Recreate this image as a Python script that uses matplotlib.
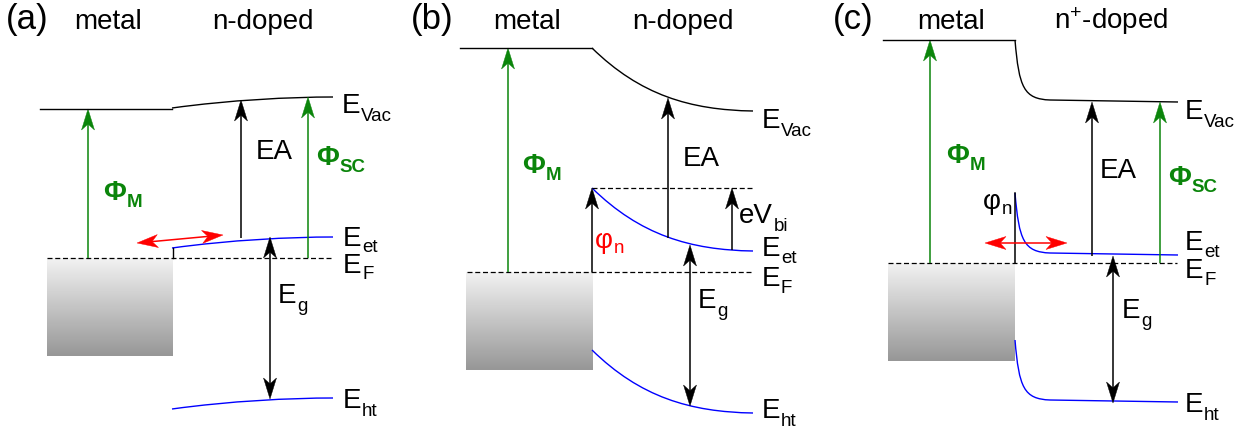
import numpy as np
import matplotlib
matplotlib.use("Agg")
import matplotlib.pyplot as plt
from matplotlib.path import Path
from matplotlib.patches import PathPatch, Polygon
from matplotlib.colors import LinearSegmentedColormap

plt.rcParams["font.family"] = ["Liberation Sans", "DejaVu Sans"]
plt.rcParams["mathtext.fontset"] = "custom"
plt.rcParams["mathtext.rm"] = "Liberation Sans"
plt.rcParams["mathtext.bf"] = "Liberation Sans:bold"
plt.rcParams["mathtext.it"] = "Liberation Sans:italic"

GREEN = "#0b850b"

# band diagram levels (pixels, y from the top)
panel_tags = ["(a)", "(b)", "(c)"]
semi_titles = ["n-doped", "n-doped", "n$^{+}$-doped"]
metal_x = [(40, 172), (460, 592), (883, 1015)]
vac_metal = [109, 48, 40]
fermi = [258, 272, 263]
fermi_x = [(47, 333), (467, 753), (888, 1177)]
box_x = [(47, 173), (466, 593), (888, 1015)]
box_bottom = [356, 370, 361]

# vacuum level in the semiconductor (bezier control points)
vac_a = [(172, 108), (230, 100), (290, 97), (333, 97)]
vac_b = [(592, 48), (640, 95), (690, 110), (753, 111)]
vac_c = [(1015, 40), (1019, 88), (1024, 99), (1050, 100), (1178, 102)]
et_offset = [140, 140, 153]   # E_et below E_Vac
ht_offset = [301, 302, 300]   # E_ht below E_Vac


def _setup_figure(width, height):
    dpi = 100
    fig = plt.figure(figsize=(width / dpi, height / dpi), dpi=dpi)
    ax = fig.add_axes([0, 0, 1, 1])
    ax.set_xlim(0, width)
    ax.set_ylim(height, 0)
    ax.axis("off")
    return fig, ax


def band(ax, pts, dy, color, lw=1.0):
    pts = [(x, y + dy) for x, y in pts]
    codes = [Path.MOVETO] + [Path.CURVE4] * 3 + [Path.LINETO] * (len(pts) - 4)
    ax.add_patch(PathPatch(Path(pts, codes), fc="none", ec=color, lw=lw))


def head(ax, tip, tail, color, length=21, width=6.5, notch=0.72):
    tip = np.array(tip, float)
    d = tip - np.array(tail, float)
    u = d / np.hypot(*d)
    n = np.array([-u[1], u[0]])
    pts = [tip, tip - u * length + n * width, tip - u * length * notch,
           tip - u * length - n * width]
    ax.add_patch(Polygon(pts, closed=True, fc=color, ec=color, lw=0.3))
    return tip - u * length * notch


def arrow(ax, tail, tip, color="black", both=False, lw=1.1):
    end = head(ax, tip, tail, color)
    start = head(ax, tail, tip, color) if both else tail
    ax.plot([start[0], end[0]], [start[1], end[1]], color=color, lw=lw,
            solid_capstyle="butt")


def label(ax, x, y, main, sub="", color="black", weight="normal", drop=8):
    t = ax.text(x, y, main, color=color, fontsize=20, fontweight=weight,
                ha="left", va="baseline")
    if sub:
        bb = t.get_window_extent(renderer)
        ax.text(bb.x1 + 0.5, y + drop, sub, color=color, fontsize=13.5,
                fontweight=weight, ha="left", va="baseline")


fig, ax = _setup_figure(1241, 428)
renderer = fig.canvas.get_renderer()

grey = LinearSegmentedColormap.from_list("metal", ["#f2f2f2", "#979797"])
vacs = [vac_a, vac_b, vac_c]

for i in range(3):
    x0, x1 = box_x[i]
    ax.imshow(np.linspace(0, 1, 200).reshape(-1, 1), cmap=grey, aspect="auto",
              extent=(x0, x1, box_bottom[i], fermi[i]), origin="upper", zorder=0)
    ax.plot(metal_x[i], [vac_metal[i]] * 2, color="black", lw=1.0)
    ax.plot(fermi_x[i], [fermi[i]] * 2, color="black", lw=0.9, ls=(0, (4, 2.2)))
    band(ax, vacs[i], 0, "black")
    band(ax, vacs[i], et_offset[i], "blue")
    band(ax, vacs[i], ht_offset[i], "blue")

ax.set_xlim(0, 1241)
ax.set_ylim(428, 0)

# titles
title_x = [(6, 108, 263), (411, 527, 683), (833, 951, 1111)]
for i, (tx, mx, sx) in enumerate(title_x):
    ax.text(tx, 29, panel_tags[i], fontsize=25, ha="left", va="baseline")
    ax.text(mx, 29, "metal", fontsize=20, ha="center", va="baseline")
    ax.text(sx, 29, semi_titles[i], fontsize=20, ha="center", va="baseline")

# ---- panel (a)
ax.plot([173, 173], [fermi[0], 248], color="black", lw=1.0)
arrow(ax, (88, 258), (88, 109), GREEN)
arrow(ax, (241, 238), (241, 100))
arrow(ax, (308, 258), (308, 97), GREEN)
arrow(ax, (270, 237), (270, 399), both=True)
arrow(ax, (137, 243), (223, 235), "red", both=True)
label(ax, 103, 200, "Φ", "M", GREEN, "bold", 7)
label(ax, 256, 159, "EA")
label(ax, 316, 165, "Φ", "SC", GREEN, "bold", 7)
label(ax, 278, 303, "E", "g")
label(ax, 342, 113, "E", "Vac")
label(ax, 343, 246, "E", "et", drop=6)
label(ax, 343, 273, "E", "F", drop=6)
label(ax, 343, 408, "E", "ht")

# ---- panel (b)
ax.plot([592, 753], [188, 188], color="black", lw=0.9, ls=(0, (4, 2.2)))
arrow(ax, (508, 272), (508, 48), GREEN)
arrow(ax, (592, 272), (592, 188))
arrow(ax, (668, 238), (668, 98))
arrow(ax, (732, 250), (732, 188))
arrow(ax, (690, 245), (690, 406), both=True)
label(ax, 522, 173, "Φ", "M", GREEN, "bold", 7)
label(ax, 595, 248, "φ", "n", "red", drop=5)
label(ax, 683, 166, "EA")
label(ax, 739, 223, "eV", "bi")
label(ax, 698, 308, "E", "g")
label(ax, 762, 128, "E", "Vac")
label(ax, 762, 256, "E", "et", drop=7)
label(ax, 762, 286, "E", "F", drop=7)
label(ax, 762, 418, "E", "ht")

# ---- panel (c)
ax.plot([1015, 1015], [fermi[2], 193], color="black", lw=1.1)
arrow(ax, (930, 263), (930, 40), GREEN)
arrow(ax, (1092, 256), (1092, 102))
arrow(ax, (1160, 263), (1160, 102), GREEN)
arrow(ax, (1113, 256), (1113, 403), both=True)
arrow(ax, (985, 243), (1067, 243), "red", both=True)
label(ax, 946, 163, "Φ", "M", GREEN, "bold", 7)
label(ax, 983, 209, "φ", "n", drop=5)
label(ax, 1100, 178, "EA")
label(ax, 1168, 185, "Φ", "SC", GREEN, "bold", 7)
label(ax, 1122, 318, "E", "g")
label(ax, 1185, 119, "E", "Vac")
label(ax, 1185, 250, "E", "et", drop=7)
label(ax, 1185, 278, "E", "F", drop=7)
label(ax, 1185, 412, "E", "ht")

fig.savefig("out.png", dpi=100)
